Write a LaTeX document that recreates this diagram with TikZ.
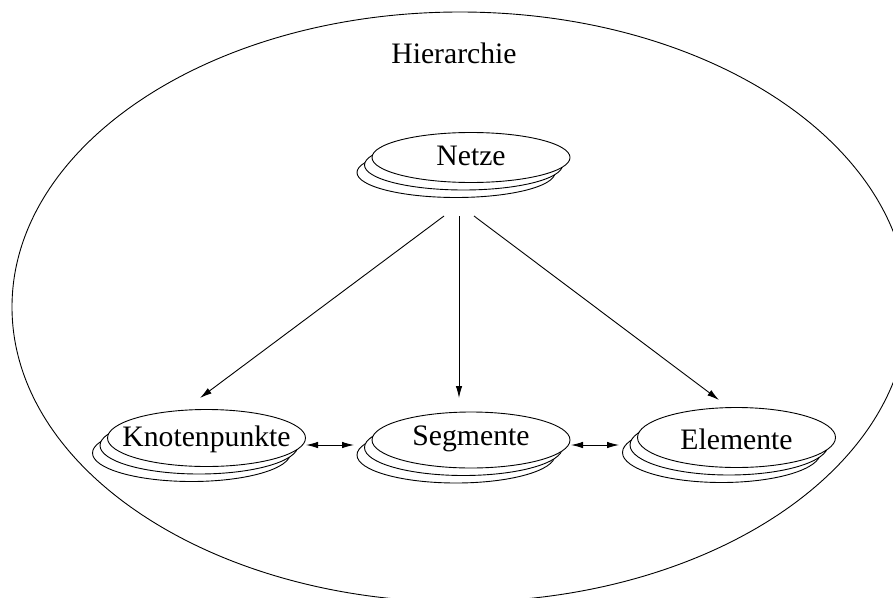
\documentclass[tikz,border=0pt]{standalone}
\usepackage{fontspec}
\setmainfont{Liberation Serif}
\usetikzlibrary{shapes.geometric,arrows.meta}
\tikzset{
  px/.style={x=1pt,y=-1pt},
  lbl/.style={font=\fontsize{29.7}{32}\selectfont},
  stackell/.style={ellipse,draw,fill=white,line width=0.9pt,inner sep=0pt,
    minimum width=198pt,text height=20pt,text depth=4pt,lbl},
  arr/.style={line width=0.9pt,-{Latex[length=12pt,width=6.5pt]}},
  darr/.style={line width=0.9pt,{Latex[length=12pt,width=6.5pt]}-{Latex[length=12pt,width=6.5pt]}}
}
\begin{document}
\begin{tikzpicture}[px]
\useasboundingbox (0,0) rectangle (893,597);
\begin{scope}
\clip (0,0) rectangle (893,597);
\node[ellipse,draw,line width=0.9pt,inner sep=0pt,minimum width=896pt,minimum height=590pt] (hier) at (460,307) {};
\end{scope}
\node[lbl,anchor=base] (hiertxt) at (454,63) {Hierarchie};
% Netze
\node[stackell,minimum height=50pt] (net3) at (456,172.5) {};
\node[stackell,minimum height=50pt] (net2) at (463.5,165) {};
\node[stackell,minimum height=50pt] (net) at (471,157.5) {\makebox[0pt]{Netze}};
% Knotenpunkte
\node[stackell,minimum height=57pt] (kn3) at (191.5,453) {};
\node[stackell,minimum height=57pt] (kn2) at (199,445.5) {};
\node[stackell,minimum height=57pt] (kn) at (206.5,438) {\makebox[0pt]{Knotenpunkte}};
% Segmente
\node[stackell,minimum height=56pt] (seg3) at (456,455) {};
\node[stackell,minimum height=56pt] (seg2) at (463.5,447.5) {};
\node[stackell,minimum height=56pt,text depth=10pt] (seg) at (471,440) {\makebox[0pt]{Segmente}};
% Elemente
\node[stackell,minimum height=60pt] (el3) at (721.5,452.5) {};
\node[stackell,minimum height=60pt] (el2) at (729,445) {};
\node[stackell,minimum height=60pt,text height=24pt,text depth=0pt] (el) at (736.5,437.5) {\makebox[0pt]{Elemente}};
% connectors
\coordinate (s1) at (444,216);
\coordinate (s2) at (459,216);
\coordinate (s3) at (474,216);
\coordinate (e1) at (200,398);
\coordinate (e2) at (459,398);
\coordinate (e3) at (719,400);
\draw[arr] (s1) -- (e1);
\draw[arr] (s2) -- (e2);
\draw[arr] (s3) -- (e3);
\coordinate (k1) at (306,445);
\coordinate (k2) at (354,445);
\coordinate (m1) at (571,445);
\coordinate (m2) at (619,445);
\draw[darr] (k1) -- (k2);
\draw[darr] (m1) -- (m2);
\end{tikzpicture}
\end{document}
